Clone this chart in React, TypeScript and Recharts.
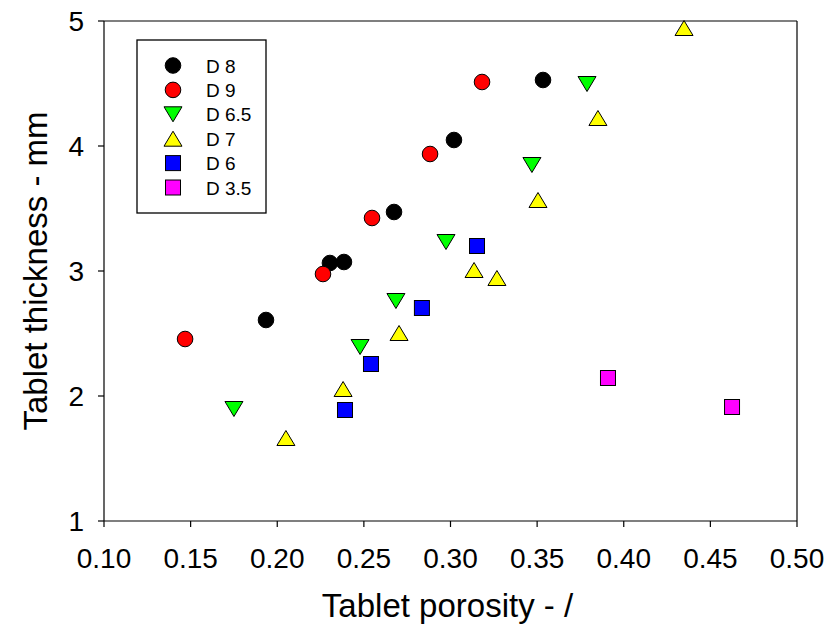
import { ScatterChart, Scatter, XAxis, YAxis, ReferenceLine, Legend } from 'recharts';

// porosity (x) and thickness in mm (y) for each die size
const D8_X = [0.1935, 0.2304, 0.2385, 0.2674, 0.302, 0.3534];
const D8_Y = [2.608, 3.064, 3.072, 3.472, 4.048, 4.528];

const D9_X = [0.1468, 0.2264, 0.2547, 0.2882, 0.3182];
const D9_Y = [2.456, 2.976, 3.424, 3.936, 4.512];

const D65_X = [0.175, 0.2478, 0.2685, 0.2974, 0.347, 0.3788];
const D65_Y = [1.896, 2.392, 2.76, 3.232, 3.848, 4.496];

const D7_X = [0.205, 0.238, 0.2703, 0.3136, 0.3268, 0.3505, 0.3851, 0.4348];
const D7_Y = [1.664, 2.056, 2.504, 3.008, 2.944, 3.568, 4.224, 4.944];

const D6_X = [0.2391, 0.2541, 0.2835, 0.3153];
const D6_Y = [1.888, 2.256, 2.704, 3.2];

const D35_X = [0.3909, 0.4625];
const D35_Y = [2.144, 1.912];

const X_TICKS = [0.1, 0.15, 0.2, 0.25, 0.3, 0.35, 0.4, 0.45, 0.5];
const Y_TICKS = [1, 2, 3, 4, 5];

type Kind = 'circle' | 'down' | 'up' | 'square';

const toPoints = (xs: number[], ys: number[]) => xs.map((x, i) => ({ x, y: ys[i] }));

const SERIES: { name: string; color: string; kind: Kind; data: { x: number; y: number }[] }[] = [
  { name: 'D 8', color: '#000000', kind: 'circle', data: toPoints(D8_X, D8_Y) },
  { name: 'D 9', color: '#ff0000', kind: 'circle', data: toPoints(D9_X, D9_Y) },
  { name: 'D 6.5', color: '#00ff00', kind: 'down', data: toPoints(D65_X, D65_Y) },
  { name: 'D 7', color: '#ffff00', kind: 'up', data: toPoints(D7_X, D7_Y) },
  { name: 'D 6', color: '#0000ff', kind: 'square', data: toPoints(D6_X, D6_Y) },
  { name: 'D 3.5', color: '#ff00ff', kind: 'square', data: toPoints(D35_X, D35_Y) },
];

const FONT = '"Liberation Sans", Arial, sans-serif';

function marker(kind: Kind, color: string, cx: number, cy: number) {
  const stroke = '#000';
  if (kind === 'circle') {
    return <circle cx={cx} cy={cy} r={7.8} fill={color} stroke={stroke} strokeWidth={1} />;
  }
  if (kind === 'square') {
    return <rect x={cx - 7.5} y={cy - 7.5} width={15} height={15} fill={color} stroke={stroke} strokeWidth={1} />;
  }
  const w = 9;
  const h = 7.5;
  const pts =
    kind === 'up'
      ? `${cx},${cy - h} ${cx + w},${cy + h} ${cx - w},${cy + h}`
      : `${cx},${cy + h} ${cx + w},${cy - h} ${cx - w},${cy - h}`;
  return <polygon points={pts} fill={color} stroke={stroke} strokeWidth={1} />;
}

function LegendBox() {
  const rowGap = 24.4;
  return (
    <svg width={131} height={176} style={{ display: 'block' }}>
      <rect x={1} y={1} width={129} height={173} fill="#fff" stroke="#000" strokeWidth={1.3} />
      {SERIES.map((s, i) => {
        const cy = 26.5 + i * rowGap;
        return (
          <g key={s.name}>
            {marker(s.kind, s.color, 37, cy)}
            <text x={70} y={cy + 7} fontSize={19} fontFamily={FONT} fill="#000">
              {s.name}
            </text>
          </g>
        );
      })}
    </svg>
  );
}

export default function App() {
  return (
    <div style={{ position: 'absolute', left: 0, top: 0, background: '#fff' }}>
      <ScatterChart width={833} height={631} margin={{ top: 21, right: 36, left: 0, bottom: 0 }}>
        <XAxis
          type="number"
          dataKey="x"
          domain={[0.1, 0.5]}
          ticks={X_TICKS}
          tickFormatter={(v: number) => v.toFixed(2)}
          height={110}
          tickSize={6}
          tickMargin={21}
          axisLine={{ stroke: '#000', strokeWidth: 1.2 }}
          tickLine={{ stroke: '#000', strokeWidth: 1.2 }}
          tick={{ fill: '#000', fontSize: 28, fontFamily: FONT }}
          label={{
            content: (p: any) => (
              <text
                x={p.viewBox.x + p.viewBox.width / 2 - 3}
                y={617}
                textAnchor="middle"
                fontSize={33}
                fontFamily={FONT}
                fill="#000"
              >
                Tablet porosity - /
              </text>
            ),
          }}
        />
        <YAxis
          type="number"
          dataKey="y"
          domain={[1, 5]}
          ticks={Y_TICKS}
          width={104}
          tickSize={6}
          tickMargin={14}
          axisLine={{ stroke: '#000', strokeWidth: 1.2 }}
          tickLine={{ stroke: '#000', strokeWidth: 1.2 }}
          tick={{ fill: '#000', fontSize: 28, fontFamily: FONT }}
          label={{
            content: (p: any) => {
              const cx = 35;
              const cy = p.viewBox.y + p.viewBox.height / 2;
              return (
                <text
                  x={cx}
                  y={cy}
                  dy={12}
                  transform={`rotate(-90 ${cx} ${cy})`}
                  textAnchor="middle"
                  fontSize={33}
                  fontFamily={FONT}
                  fill="#000"
                >
                  Tablet thickness - mm
                </text>
              );
            },
          }}
        />
        <ReferenceLine y={5} stroke="#000" strokeWidth={1.2} />
        <ReferenceLine x={0.5} stroke="#000" strokeWidth={1.2} />
        {SERIES.map((s) => (
          <Scatter
            key={s.name}
            name={s.name}
            data={s.data}
            fill={s.color}
            isAnimationActive={false}
            shape={(p: any) => marker(s.kind, s.color, p.cx, p.cy)}
          />
        ))}
        <Legend
          layout="vertical"
          verticalAlign="middle"
          align="center"
          content={() => <LegendBox />}
          wrapperStyle={{ position: 'absolute', left: 136, top: 39, width: 131, height: 176 }}
        />
      </ScatterChart>
    </div>
  );
}
